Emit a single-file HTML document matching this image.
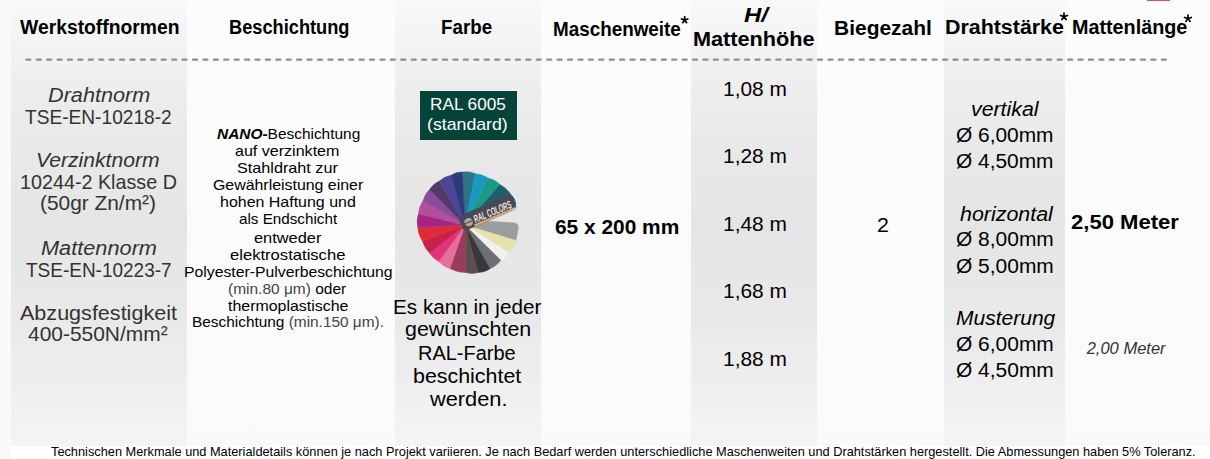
<!DOCTYPE html>
<html><head><meta charset="utf-8"><style>
html,body{margin:0;padding:0}
body{width:1210px;height:459px;position:relative;overflow:hidden;background:#f9f9f9;font-family:"Liberation Sans",sans-serif}
.t{position:absolute;white-space:nowrap;line-height:1;transform-origin:0 0}
.g{color:#444}
</style></head><body>
<div style="position:absolute;left:11px;top:446px;width:1199px;height:13px;background:#fff"></div>
<div style="position:absolute;left:11px;top:0;width:176px;height:446px;background:linear-gradient(to bottom,#f9f9f9 0%,#f3f3f3 10%,#ebebeb 25%,#e5e5e5 50%,#e9e9e9 72%,#f4f4f4 100%)"></div><div style="position:absolute;left:187px;top:0;width:207.5px;height:446px;background:linear-gradient(to bottom,#fcfcfc 0%,#fbfbfb 50%,#fafafa 100%)"></div><div style="position:absolute;left:394.5px;top:0;width:146.5px;height:446px;background:linear-gradient(to bottom,#f9f9f9 0%,#f3f3f3 10%,#ebebeb 25%,#e5e5e5 50%,#e9e9e9 72%,#f4f4f4 100%)"></div><div style="position:absolute;left:541px;top:0;width:150px;height:446px;background:linear-gradient(to bottom,#fcfcfc 0%,#fbfbfb 50%,#fafafa 100%)"></div><div style="position:absolute;left:691px;top:0;width:125.5px;height:446px;background:linear-gradient(to bottom,#f9f9f9 0%,#f3f3f3 10%,#ebebeb 25%,#e5e5e5 50%,#e9e9e9 72%,#f4f4f4 100%)"></div><div style="position:absolute;left:816.5px;top:0;width:127.29999999999995px;height:446px;background:linear-gradient(to bottom,#fcfcfc 0%,#fbfbfb 50%,#fafafa 100%)"></div><div style="position:absolute;left:943.8px;top:0;width:121.20000000000005px;height:446px;background:linear-gradient(to bottom,#f9f9f9 0%,#f3f3f3 10%,#ebebeb 25%,#e5e5e5 50%,#e9e9e9 72%,#f4f4f4 100%)"></div><div style="position:absolute;left:1065px;top:0;width:145px;height:446px;background:linear-gradient(to bottom,#fcfcfc 0%,#fbfbfb 50%,#fafafa 100%)"></div>
<div style="position:absolute;left:1147px;top:0;width:23px;height:1px;background:#e34b57"></div>
<svg width="1210" height="459" style="position:absolute;left:0;top:0"><rect x="25.20" y="58.5" width="6.2" height="2.2" rx="1" fill="#8f8f8f"/><rect x="35.62" y="58.5" width="6.2" height="2.2" rx="1" fill="#8f8f8f"/><rect x="46.04" y="58.5" width="6.2" height="2.2" rx="1" fill="#8f8f8f"/><rect x="56.45" y="58.5" width="6.2" height="2.2" rx="1" fill="#8f8f8f"/><rect x="66.87" y="58.5" width="6.2" height="2.2" rx="1" fill="#8f8f8f"/><rect x="77.29" y="58.5" width="6.2" height="2.2" rx="1" fill="#8f8f8f"/><rect x="87.71" y="58.5" width="6.2" height="2.2" rx="1" fill="#8f8f8f"/><rect x="98.13" y="58.5" width="6.2" height="2.2" rx="1" fill="#8f8f8f"/><rect x="108.54" y="58.5" width="6.2" height="2.2" rx="1" fill="#8f8f8f"/><rect x="118.96" y="58.5" width="6.2" height="2.2" rx="1" fill="#8f8f8f"/><rect x="129.38" y="58.5" width="6.2" height="2.2" rx="1" fill="#8f8f8f"/><rect x="139.80" y="58.5" width="6.2" height="2.2" rx="1" fill="#8f8f8f"/><rect x="150.22" y="58.5" width="6.2" height="2.2" rx="1" fill="#8f8f8f"/><rect x="160.63" y="58.5" width="6.2" height="2.2" rx="1" fill="#8f8f8f"/><rect x="171.05" y="58.5" width="6.2" height="2.2" rx="1" fill="#8f8f8f"/><rect x="181.47" y="58.5" width="6.2" height="2.2" rx="1" fill="#8f8f8f"/><rect x="191.89" y="58.5" width="6.2" height="2.2" rx="1" fill="#8f8f8f"/><rect x="202.31" y="58.5" width="6.2" height="2.2" rx="1" fill="#8f8f8f"/><rect x="212.72" y="58.5" width="6.2" height="2.2" rx="1" fill="#8f8f8f"/><rect x="223.14" y="58.5" width="6.2" height="2.2" rx="1" fill="#8f8f8f"/><rect x="233.56" y="58.5" width="6.2" height="2.2" rx="1" fill="#8f8f8f"/><rect x="243.98" y="58.5" width="6.2" height="2.2" rx="1" fill="#8f8f8f"/><rect x="254.40" y="58.5" width="6.2" height="2.2" rx="1" fill="#8f8f8f"/><rect x="264.81" y="58.5" width="6.2" height="2.2" rx="1" fill="#8f8f8f"/><rect x="275.23" y="58.5" width="6.2" height="2.2" rx="1" fill="#8f8f8f"/><rect x="285.65" y="58.5" width="6.2" height="2.2" rx="1" fill="#8f8f8f"/><rect x="296.07" y="58.5" width="6.2" height="2.2" rx="1" fill="#8f8f8f"/><rect x="306.49" y="58.5" width="6.2" height="2.2" rx="1" fill="#8f8f8f"/><rect x="316.90" y="58.5" width="6.2" height="2.2" rx="1" fill="#8f8f8f"/><rect x="327.32" y="58.5" width="6.2" height="2.2" rx="1" fill="#8f8f8f"/><rect x="337.74" y="58.5" width="6.2" height="2.2" rx="1" fill="#8f8f8f"/><rect x="348.16" y="58.5" width="6.2" height="2.2" rx="1" fill="#8f8f8f"/><rect x="358.58" y="58.5" width="6.2" height="2.2" rx="1" fill="#8f8f8f"/><rect x="368.99" y="58.5" width="6.2" height="2.2" rx="1" fill="#8f8f8f"/><rect x="379.41" y="58.5" width="6.2" height="2.2" rx="1" fill="#8f8f8f"/><rect x="389.83" y="58.5" width="6.2" height="2.2" rx="1" fill="#8f8f8f"/><rect x="400.25" y="58.5" width="6.2" height="2.2" rx="1" fill="#8f8f8f"/><rect x="410.67" y="58.5" width="6.2" height="2.2" rx="1" fill="#8f8f8f"/><rect x="421.08" y="58.5" width="6.2" height="2.2" rx="1" fill="#8f8f8f"/><rect x="431.50" y="58.5" width="6.2" height="2.2" rx="1" fill="#8f8f8f"/><rect x="441.92" y="58.5" width="6.2" height="2.2" rx="1" fill="#8f8f8f"/><rect x="452.34" y="58.5" width="6.2" height="2.2" rx="1" fill="#8f8f8f"/><rect x="462.76" y="58.5" width="6.2" height="2.2" rx="1" fill="#8f8f8f"/><rect x="473.17" y="58.5" width="6.2" height="2.2" rx="1" fill="#8f8f8f"/><rect x="483.59" y="58.5" width="6.2" height="2.2" rx="1" fill="#8f8f8f"/><rect x="494.01" y="58.5" width="6.2" height="2.2" rx="1" fill="#8f8f8f"/><rect x="504.43" y="58.5" width="6.2" height="2.2" rx="1" fill="#8f8f8f"/><rect x="514.85" y="58.5" width="6.2" height="2.2" rx="1" fill="#8f8f8f"/><rect x="525.26" y="58.5" width="6.2" height="2.2" rx="1" fill="#8f8f8f"/><rect x="535.68" y="58.5" width="6.2" height="2.2" rx="1" fill="#8f8f8f"/><rect x="546.10" y="58.5" width="6.2" height="2.2" rx="1" fill="#8f8f8f"/><rect x="556.52" y="58.5" width="6.2" height="2.2" rx="1" fill="#8f8f8f"/><rect x="566.94" y="58.5" width="6.2" height="2.2" rx="1" fill="#8f8f8f"/><rect x="577.35" y="58.5" width="6.2" height="2.2" rx="1" fill="#8f8f8f"/><rect x="587.77" y="58.5" width="6.2" height="2.2" rx="1" fill="#8f8f8f"/><rect x="598.19" y="58.5" width="6.2" height="2.2" rx="1" fill="#8f8f8f"/><rect x="608.61" y="58.5" width="6.2" height="2.2" rx="1" fill="#8f8f8f"/><rect x="619.03" y="58.5" width="6.2" height="2.2" rx="1" fill="#8f8f8f"/><rect x="629.44" y="58.5" width="6.2" height="2.2" rx="1" fill="#8f8f8f"/><rect x="639.86" y="58.5" width="6.2" height="2.2" rx="1" fill="#8f8f8f"/><rect x="650.28" y="58.5" width="6.2" height="2.2" rx="1" fill="#8f8f8f"/><rect x="660.70" y="58.5" width="6.2" height="2.2" rx="1" fill="#8f8f8f"/><rect x="671.12" y="58.5" width="6.2" height="2.2" rx="1" fill="#8f8f8f"/><rect x="681.53" y="58.5" width="6.2" height="2.2" rx="1" fill="#8f8f8f"/><rect x="691.95" y="58.5" width="6.2" height="2.2" rx="1" fill="#8f8f8f"/><rect x="702.37" y="58.5" width="6.2" height="2.2" rx="1" fill="#8f8f8f"/><rect x="712.79" y="58.5" width="6.2" height="2.2" rx="1" fill="#8f8f8f"/><rect x="723.21" y="58.5" width="6.2" height="2.2" rx="1" fill="#8f8f8f"/><rect x="733.62" y="58.5" width="6.2" height="2.2" rx="1" fill="#8f8f8f"/><rect x="744.04" y="58.5" width="6.2" height="2.2" rx="1" fill="#8f8f8f"/><rect x="754.46" y="58.5" width="6.2" height="2.2" rx="1" fill="#8f8f8f"/><rect x="764.88" y="58.5" width="6.2" height="2.2" rx="1" fill="#8f8f8f"/><rect x="775.30" y="58.5" width="6.2" height="2.2" rx="1" fill="#8f8f8f"/><rect x="785.71" y="58.5" width="6.2" height="2.2" rx="1" fill="#8f8f8f"/><rect x="796.13" y="58.5" width="6.2" height="2.2" rx="1" fill="#8f8f8f"/><rect x="806.55" y="58.5" width="6.2" height="2.2" rx="1" fill="#8f8f8f"/><rect x="816.97" y="58.5" width="6.2" height="2.2" rx="1" fill="#8f8f8f"/><rect x="827.39" y="58.5" width="6.2" height="2.2" rx="1" fill="#8f8f8f"/><rect x="837.80" y="58.5" width="6.2" height="2.2" rx="1" fill="#8f8f8f"/><rect x="848.22" y="58.5" width="6.2" height="2.2" rx="1" fill="#8f8f8f"/><rect x="858.64" y="58.5" width="6.2" height="2.2" rx="1" fill="#8f8f8f"/><rect x="869.06" y="58.5" width="6.2" height="2.2" rx="1" fill="#8f8f8f"/><rect x="879.48" y="58.5" width="6.2" height="2.2" rx="1" fill="#8f8f8f"/><rect x="889.89" y="58.5" width="6.2" height="2.2" rx="1" fill="#8f8f8f"/><rect x="900.31" y="58.5" width="6.2" height="2.2" rx="1" fill="#8f8f8f"/><rect x="910.73" y="58.5" width="6.2" height="2.2" rx="1" fill="#8f8f8f"/><rect x="921.15" y="58.5" width="6.2" height="2.2" rx="1" fill="#8f8f8f"/><rect x="931.57" y="58.5" width="6.2" height="2.2" rx="1" fill="#8f8f8f"/><rect x="941.98" y="58.5" width="6.2" height="2.2" rx="1" fill="#8f8f8f"/><rect x="952.40" y="58.5" width="6.2" height="2.2" rx="1" fill="#8f8f8f"/><rect x="962.82" y="58.5" width="6.2" height="2.2" rx="1" fill="#8f8f8f"/><rect x="973.24" y="58.5" width="6.2" height="2.2" rx="1" fill="#8f8f8f"/><rect x="983.66" y="58.5" width="6.2" height="2.2" rx="1" fill="#8f8f8f"/><rect x="994.07" y="58.5" width="6.2" height="2.2" rx="1" fill="#8f8f8f"/><rect x="1004.49" y="58.5" width="6.2" height="2.2" rx="1" fill="#8f8f8f"/><rect x="1014.91" y="58.5" width="6.2" height="2.2" rx="1" fill="#8f8f8f"/><rect x="1025.33" y="58.5" width="6.2" height="2.2" rx="1" fill="#8f8f8f"/><rect x="1035.75" y="58.5" width="6.2" height="2.2" rx="1" fill="#8f8f8f"/><rect x="1046.16" y="58.5" width="6.2" height="2.2" rx="1" fill="#8f8f8f"/><rect x="1056.58" y="58.5" width="6.2" height="2.2" rx="1" fill="#8f8f8f"/><rect x="1067.00" y="58.5" width="6.2" height="2.2" rx="1" fill="#8f8f8f"/><rect x="1077.42" y="58.5" width="6.2" height="2.2" rx="1" fill="#8f8f8f"/><rect x="1087.84" y="58.5" width="6.2" height="2.2" rx="1" fill="#8f8f8f"/><rect x="1098.25" y="58.5" width="6.2" height="2.2" rx="1" fill="#8f8f8f"/><rect x="1108.67" y="58.5" width="6.2" height="2.2" rx="1" fill="#8f8f8f"/><rect x="1119.09" y="58.5" width="6.2" height="2.2" rx="1" fill="#8f8f8f"/><rect x="1129.51" y="58.5" width="6.2" height="2.2" rx="1" fill="#8f8f8f"/><rect x="1139.93" y="58.5" width="6.2" height="2.2" rx="1" fill="#8f8f8f"/><rect x="1150.34" y="58.5" width="6.2" height="2.2" rx="1" fill="#8f8f8f"/><rect x="1160.76" y="58.5" width="6.2" height="2.2" rx="1" fill="#8f8f8f"/></svg>
<div style="position:absolute;left:420px;top:91px;width:97px;height:49px;background:#06443a"></div>
<svg width="1210" height="459" style="position:absolute;left:0;top:0"><path d="M465.0,225.0 L462.3,172 Q469.00,170.86 475.4,173.7 Z" fill="#2b7585" stroke="#2b7585" stroke-width="0.5" stroke-linejoin="round"/><path d="M465.0,225.0 L475.4,173.7 Q482.34,174.01 488,178.1 Z" fill="#199ac4" stroke="#199ac4" stroke-width="0.5" stroke-linejoin="round"/><path d="M465.0,225.0 L488,178.1 Q495.11,179.68 500,184.6 Z" fill="#1b9a88" stroke="#1b9a88" stroke-width="0.5" stroke-linejoin="round"/><path d="M465.0,225.0 L500,184.6 Q506.90,188.18 510.8,194.4 Z" fill="#1f5e6e" stroke="#1f5e6e" stroke-width="0.5" stroke-linejoin="round"/><path d="M465.0,225.0 L510.8,194.4 Q515.16,198.26 516,204 Z" fill="#1f5e6e" stroke="#1f5e6e" stroke-width="0.5" stroke-linejoin="round"/><path d="M465.0,225.0 L488,221.3 L513.5,222.8 Q518.6,223.3 518.3,228.5 L516,240.5 Z" fill="#9b9d9f" stroke="#9b9d9f" stroke-width="0.5" stroke-linejoin="round"/><path d="M465.0,225.0 L516,240.5 Q514.37,247.43 509.1,252.7 Z" fill="#e6e3a8" stroke="#e6e3a8" stroke-width="0.5" stroke-linejoin="round"/><path d="M465.0,225.0 L509.1,252.7 Q506.52,257.74 500.8,260.3 Z" fill="#f1f1f1" stroke="#f1f1f1" stroke-width="0.5" stroke-linejoin="round"/><path d="M465.0,225.0 L500.8,260.3 Q496.62,266.08 490,268.7 Z" fill="#6c6f74" stroke="#6c6f74" stroke-width="0.5" stroke-linejoin="round"/><path d="M465.0,225.0 L490,268.7 Q484.72,272.45 477.9,272.5 Z" fill="#37383c" stroke="#37383c" stroke-width="0.5" stroke-linejoin="round"/><path d="M465.0,225.0 L477.9,272.5 Q472.08,274.48 465.7,272.5 Z" fill="#5a4f4e" stroke="#5a4f4e" stroke-width="0.5" stroke-linejoin="round"/><path d="M465.0,225.0 L465.7,272.5 Q457.49,272.53 449.9,268.6 Z" fill="#9a3b5c" stroke="#9a3b5c" stroke-width="0.5" stroke-linejoin="round"/><path d="M465.0,225.0 L449.9,268.6 Q443.43,266.78 438.8,261.4 Z" fill="#e86d9a" stroke="#e86d9a" stroke-width="0.5" stroke-linejoin="round"/><path d="M465.0,225.0 L438.8,261.4 Q432.82,258.59 429.6,252.9 Z" fill="#e1327a" stroke="#e1327a" stroke-width="0.5" stroke-linejoin="round"/><path d="M465.0,225.0 L429.6,252.9 Q424.31,247.98 422.5,241.1 Z" fill="#c7214b" stroke="#c7214b" stroke-width="0.5" stroke-linejoin="round"/><path d="M465.0,225.0 L422.5,241.1 Q418.19,234.71 417.8,227.5 Z" fill="#e02a3a" stroke="#e02a3a" stroke-width="0.5" stroke-linejoin="round"/><path d="M465.0,225.0 L417.8,227.5 Q416.16,220.47 418.5,213.8 Z" fill="#a52680" stroke="#a52680" stroke-width="0.5" stroke-linejoin="round"/><path d="M465.0,225.0 L418.5,213.8 Q418.94,206.50 423.1,200.7 Z" fill="#b24f9c" stroke="#b24f9c" stroke-width="0.5" stroke-linejoin="round"/><path d="M465.0,225.0 L423.1,200.7 Q424.77,193.93 429.6,189.6 Z" fill="#8a4c9a" stroke="#8a4c9a" stroke-width="0.5" stroke-linejoin="round"/><path d="M465.0,225.0 L429.6,189.6 Q433.28,183.76 439.4,181.1 Z" fill="#53396a" stroke="#53396a" stroke-width="0.5" stroke-linejoin="round"/><path d="M465.0,225.0 L439.4,181.1 Q444.52,176.31 451.2,175.2 Z" fill="#4d4697" stroke="#4d4697" stroke-width="0.5" stroke-linejoin="round"/><path d="M465.0,225.0 L451.2,175.2 Q456.43,171.63 462.3,172 Z" fill="#2f3a7a" stroke="#2f3a7a" stroke-width="0.5" stroke-linejoin="round"/><g transform="translate(468.7,222.2) rotate(-23)"><rect x="-8" y="-9.5" width="58" height="16" rx="3.5" fill="#4a4856"/><rect x="4" y="4.2" width="40" height="2.3" fill="#cfae77"/><rect x="44" y="4.2" width="5" height="2.3" fill="#c5c7b5"/><circle cx="0" cy="0" r="4" fill="#c9a877"/><path d="M-4,0 A4,4 0 0 1 4,0 Z" fill="#a9a9a6"/><rect x="-4" y="-0.6" width="8" height="1.2" fill="#5b5860"/><text x="6" y="3.4" font-family="Liberation Sans" font-weight="bold" font-style="italic" font-size="11" fill="#ebe5d6" textLength="40" lengthAdjust="spacingAndGlyphs">RAL COLORS</text></g></svg>
<div class="t" style="left:19.70px;top:17.80px;font-size:19.5px;color:#000;transform:scaleX(0.9906);font-weight:bold">Werkstoffnormen</div><div class="t" style="left:228.87px;top:17.70px;font-size:19.5px;color:#000;transform:scaleX(0.9346);font-weight:bold">Beschichtung</div><div class="t" style="left:441.44px;top:17.70px;font-size:19.5px;color:#000;transform:scaleX(0.9615);font-weight:bold">Farbe</div><div class="t" style="left:553.23px;top:19.70px;font-size:19.5px;color:#000;transform:scaleX(0.9664);font-weight:bold">Maschenweite</div><div class="t" style="left:743.90px;top:5.60px;font-size:19.5px;color:#000;transform:scaleX(1.2286);font-weight:bold;font-style:italic">H/</div><div class="t" style="left:693.49px;top:29.50px;font-size:19.5px;color:#000;transform:scaleX(1.1120);font-weight:bold">Mattenhöhe</div><div class="t" style="left:833.72px;top:18.50px;font-size:19.5px;color:#000;transform:scaleX(1.0753);font-weight:bold">Biegezahl</div><div class="t" style="left:944.70px;top:17.60px;font-size:19.5px;color:#000;transform:scaleX(1.0972);font-weight:bold">Drahtstärke</div><div class="t" style="left:1071.79px;top:18.00px;font-size:19.5px;color:#000;transform:scaleX(1.0134);font-weight:bold">Mattenlänge</div><div class="t" style="left:47.99px;top:85.50px;font-size:19.5px;color:#333;transform:scaleX(1.1100);font-style:italic">Drahtnorm</div><div class="t" style="left:24.60px;top:107.00px;font-size:20.8px;color:#333;transform:scaleX(0.9195)">TSE-EN-10218-2</div><div class="t" style="left:36.44px;top:151.10px;font-size:19.5px;color:#333;transform:scaleX(1.0821);font-style:italic">Verzinktnorm</div><div class="t" style="left:20.15px;top:171.90px;font-size:20.8px;color:#333;transform:scaleX(0.9491)">10244-2 Klasse D</div><div class="t" style="left:39.90px;top:192.60px;font-size:20.8px;color:#333;transform:scaleX(1.0035)">(50gr Zn/m²)</div><div class="t" style="left:41.39px;top:238.80px;font-size:19.5px;color:#333;transform:scaleX(1.1147);font-style:italic">Mattennorm</div><div class="t" style="left:25.50px;top:260.00px;font-size:20.8px;color:#333;transform:scaleX(0.9126)">TSE-EN-10223-7</div><div class="t" style="left:19.70px;top:303.00px;font-size:20.8px;color:#333;transform:scaleX(1.0362)">Abzugsfestigkeit</div><div class="t" style="left:28.10px;top:324.20px;font-size:20.8px;color:#333;transform:scaleX(1.0072)">400-550N/mm²</div><div class="t" style="left:216.80px;top:126.70px;font-size:14.5px;color:#000;transform:scaleX(1.0642)"><b><i>NANO-</i></b>Beschichtung</div><div class="t" style="left:234.89px;top:143.50px;font-size:14.5px;color:#000;transform:scaleX(1.1075)">auf verzinktem</div><div class="t" style="left:237.28px;top:160.80px;font-size:14.5px;color:#000;transform:scaleX(1.1169)">Stahldraht zur</div><div class="t" style="left:212.80px;top:177.50px;font-size:14.5px;color:#000;transform:scaleX(1.0963)">Gewährleistung einer</div><div class="t" style="left:220.00px;top:194.80px;font-size:14.5px;color:#000;transform:scaleX(1.1008)">hohen Haftung und</div><div class="t" style="left:238.55px;top:211.60px;font-size:14.5px;color:#000;transform:scaleX(1.0495)">als Endschicht</div><div class="t" style="left:253.67px;top:230.90px;font-size:14.5px;color:#000;transform:scaleX(1.1288)">entweder</div><div class="t" style="left:230.35px;top:247.60px;font-size:14.5px;color:#000;transform:scaleX(1.1455)">elektrostatische</div><div class="t" style="left:183.71px;top:265.10px;font-size:14.5px;color:#000;transform:scaleX(1.0874)">Polyester-Pulverbeschichtung</div><div class="t" style="left:228.03px;top:281.90px;font-size:14.5px;color:#000;transform:scaleX(1.0673)"><span class="g">(min.80 μm)</span> oder</div><div class="t" style="left:227.90px;top:298.70px;font-size:14.5px;color:#000;transform:scaleX(1.0991)">thermoplastische</div><div class="t" style="left:192.14px;top:315.40px;font-size:14.5px;color:#000;transform:scaleX(1.0615)">Beschichtung <span class="g">(min.150 μm).</span></div><div class="t" style="left:429.99px;top:95.80px;font-size:17px;color:#fff;transform:scaleX(1.0110)">RAL 6005</div><div class="t" style="left:427.26px;top:115.80px;font-size:17px;color:#fff;transform:scaleX(1.0421)">(standard)</div><div class="t" style="left:393.13px;top:296.80px;font-size:20px;color:#000;transform:scaleX(1.0340)">Es kann in jeder</div><div class="t" style="left:404.63px;top:319.40px;font-size:20px;color:#000;transform:scaleX(1.0707)">gewünschten</div><div class="t" style="left:418.20px;top:342.60px;font-size:20px;color:#000;transform:scaleX(0.9979)">RAL-Farbe</div><div class="t" style="left:413.43px;top:366.40px;font-size:20px;color:#000;transform:scaleX(1.0700)">beschichtet</div><div class="t" style="left:430.00px;top:389.20px;font-size:20px;color:#000;transform:scaleX(1.0899)">werden.</div><div class="t" style="left:554.91px;top:216.10px;font-size:21px;color:#000;transform:scaleX(0.9943);font-weight:bold">65 x 200 mm</div><div class="t" style="left:722.78px;top:78.80px;font-size:20.5px;color:#000;transform:scaleX(1.0200)">1,08 m</div><div class="t" style="left:722.78px;top:146.40px;font-size:20.5px;color:#000;transform:scaleX(1.0200)">1,28 m</div><div class="t" style="left:722.78px;top:213.90px;font-size:20.5px;color:#000;transform:scaleX(1.0200)">1,48 m</div><div class="t" style="left:722.78px;top:281.20px;font-size:20.5px;color:#000;transform:scaleX(1.0200)">1,68 m</div><div class="t" style="left:722.78px;top:349.00px;font-size:20.5px;color:#000;transform:scaleX(1.0200)">1,88 m</div><div class="t" style="left:876.58px;top:214.10px;font-size:21px;color:#000;transform:scaleX(1.0200)">2</div><div class="t" style="left:971.33px;top:98.80px;font-size:20px;color:#000;transform:scaleX(1.0651);font-style:italic">vertikal</div><div class="t" style="left:956.26px;top:124.60px;font-size:20px;color:#000;transform:scaleX(1.0440)">Ø 6,00mm</div><div class="t" style="left:956.26px;top:151.00px;font-size:20px;color:#000;transform:scaleX(1.0440)">Ø 4,50mm</div><div class="t" style="left:959.70px;top:203.50px;font-size:20px;color:#000;transform:scaleX(1.0701);font-style:italic">horizontal</div><div class="t" style="left:956.15px;top:229.40px;font-size:20px;color:#000;transform:scaleX(1.0473)">Ø 8,00mm</div><div class="t" style="left:956.15px;top:255.50px;font-size:20px;color:#000;transform:scaleX(1.0473)">Ø 5,00mm</div><div class="t" style="left:955.95px;top:307.80px;font-size:20px;color:#000;transform:scaleX(1.0505);font-style:italic">Musterung</div><div class="t" style="left:956.15px;top:334.20px;font-size:20px;color:#000;transform:scaleX(1.0473)">Ø 6,00mm</div><div class="t" style="left:956.15px;top:360.20px;font-size:20px;color:#000;transform:scaleX(1.0473)">Ø 4,50mm</div><div class="t" style="left:1070.65px;top:210.80px;font-size:21px;color:#000;transform:scaleX(1.0510);font-weight:bold">2,50 Meter</div><div class="t" style="left:1086.70px;top:339.80px;font-size:16.5px;color:#333;transform:scaleX(1.0000);font-style:italic">2,00 Meter</div><div class="t" style="left:50.70px;top:444.80px;font-size:13px;color:#000;transform:scaleX(0.9822)">Technischen Merkmale und Materialdetails können je nach Projekt variieren. Je nach Bedarf werden unterschiedliche Maschenweiten und Drahtstärken hergestellt. Die Abmessungen haben 5% Toleranz.</div>
<svg width="1210" height="459" style="position:absolute;left:0;top:0"><path d="M684.65,19.97 L684.65,16.64 M684.65,19.97 L687.81,18.94 M684.65,19.97 L686.61,22.66 M684.65,19.97 L682.69,22.66 M684.65,19.97 L681.49,18.94 " stroke="#000" stroke-width="1.7" stroke-linecap="round" fill="none"/><path d="M1064.00,16.66 L1064.00,13.00 M1064.00,16.66 L1067.48,15.53 M1064.00,16.66 L1066.15,19.62 M1064.00,16.66 L1061.85,19.62 M1064.00,16.66 L1060.52,15.53 " stroke="#000" stroke-width="1.7" stroke-linecap="round" fill="none"/><path d="M1187.95,18.55 L1187.95,14.98 M1187.95,18.55 L1191.34,17.44 M1187.95,18.55 L1190.05,21.43 M1187.95,18.55 L1185.85,21.43 M1187.95,18.55 L1184.56,17.44 " stroke="#000" stroke-width="1.7" stroke-linecap="round" fill="none"/></svg>
</body></html>
